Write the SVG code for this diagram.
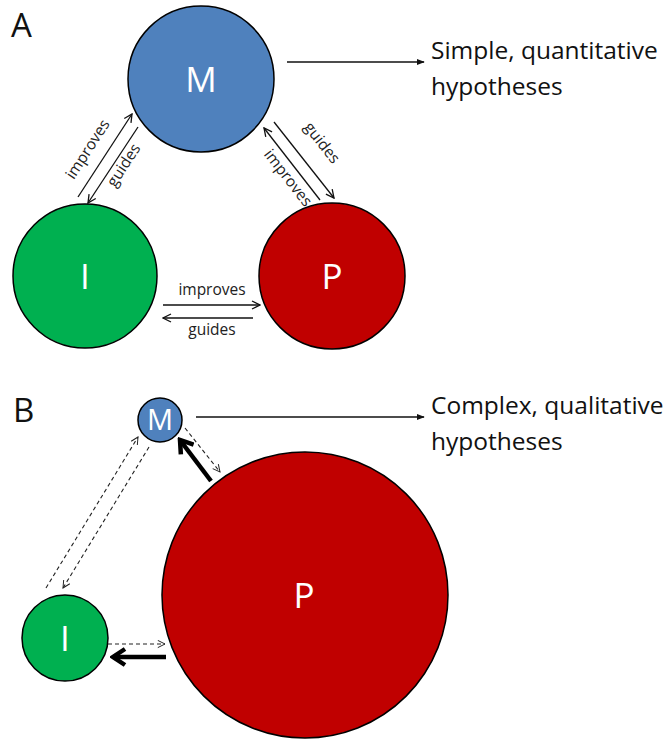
<svg xmlns="http://www.w3.org/2000/svg" width="670" height="740" viewBox="0 0 670 740">
<style>
text{font-family:"Open Sans","Liberation Sans",sans-serif;}
.node{stroke:#000;stroke-width:1.5;}
.m{fill:#4F81BD;}
.i{fill:#00B050;}
.p{fill:#C00000;}
.nl{fill:#fff;text-anchor:middle;font-size:35px;}
.lab{fill:#222;text-anchor:middle;font-size:15.5px;}
.big{fill:#111;font-size:24.5px;}
.panel{fill:#111;font-size:33px;}
.thin{stroke:#111;stroke-width:1.3;fill:none;marker-end:url(#open);}
.dash{stroke:#222;stroke-width:1.1;fill:none;stroke-dasharray:4 3;marker-end:url(#opend);}
.bold{stroke:#000;stroke-width:4.5;fill:none;marker-end:url(#boldh);}
.long{stroke:#111;stroke-width:1.5;fill:none;marker-end:url(#fill);}
</style>
<defs>
<marker id="open" viewBox="0 0 10 10" refX="9" refY="5" markerWidth="10" markerHeight="10" markerUnits="userSpaceOnUse" orient="auto">
<polyline points="1,1 9,5 1,9" fill="none" stroke="#111" stroke-width="1.3"/>
</marker>
<marker id="opend" viewBox="0 0 10 10" refX="9" refY="5" markerWidth="9" markerHeight="9" markerUnits="userSpaceOnUse" orient="auto">
<polyline points="1,1 9,5 1,9" fill="none" stroke="#222" stroke-width="1.1"/>
</marker>
<marker id="boldh" viewBox="0 0 20 20" refX="17" refY="10" markerWidth="20" markerHeight="20" markerUnits="userSpaceOnUse" orient="auto">
<polyline points="5,2 17,10 5,18" fill="none" stroke="#000" stroke-width="4.5" stroke-linejoin="miter"/>
</marker>
<marker id="fill" viewBox="0 0 10 10" refX="9" refY="5" markerWidth="8" markerHeight="8" markerUnits="userSpaceOnUse" orient="auto">
<path d="M0,1 L10,5 L0,9 Z" fill="#111"/>
</marker>
</defs>

<text class="panel" x="11" y="37">A</text>
<text class="panel" x="13" y="422">B</text>

<g id="connectors">
<line class="long" x1="287" y1="62" x2="424" y2="62"/>
<line class="thin" x1="78" y1="197" x2="132" y2="114"/>
<line class="thin" x1="138" y1="127" x2="88" y2="203"/>
<line class="thin" x1="274" y1="122" x2="334" y2="198"/>
<line class="thin" x1="320" y1="200" x2="264" y2="128"/>
<line class="thin" x1="163" y1="305" x2="260" y2="305"/>
<line class="thin" x1="253" y1="318" x2="163" y2="318"/>
<text class="lab" transform="translate(92,152) rotate(-57)">improves</text>
<text class="lab" transform="translate(128,168) rotate(-57)">guides</text>
<text class="lab" transform="translate(318,146) rotate(52)">guides</text>
<text class="lab" transform="translate(284,181) rotate(52)">improves</text>
<text class="lab" x="212" y="295">improves</text>
<text class="lab" x="212" y="335">guides</text>

<line class="long" x1="196" y1="417" x2="424" y2="417"/>
<line class="dash" x1="46" y1="588" x2="138" y2="437"/>
<line class="dash" x1="149" y1="447" x2="63" y2="588"/>
<line class="dash" x1="185" y1="428" x2="220" y2="472"/>
<line class="dash" x1="108" y1="644" x2="165" y2="644"/>
<line class="bold" x1="211" y1="481" x2="180" y2="440"/>
<line class="bold" x1="166" y1="657" x2="113" y2="657"/>
</g>

<g id="textA">
<text class="big" x="431" y="59">Simple, quantitative</text>
<text class="big" x="431" y="95">hypotheses</text>
</g>
<g id="textB">
<text class="big" x="431" y="414">Complex, qualitative</text>
<text class="big" x="431" y="450">hypotheses</text>
</g>

<g id="A-M"><circle class="node m" cx="201" cy="79" r="73"/><text class="nl" x="201" y="92">M</text></g>
<g id="A-I"><circle class="node i" cx="85" cy="276" r="72"/><text class="nl" x="85" y="289">I</text></g>
<g id="A-P"><circle class="node p" cx="332" cy="276" r="73"/><text class="nl" x="332" y="289">P</text></g>

<g id="B-M"><circle class="node m" cx="160" cy="420" r="22"/><text class="nl" x="160" y="430" style="font-size:29px">M</text></g>
<g id="B-I"><circle class="node i" cx="65" cy="638" r="43"/><text class="nl" x="65" y="651">I</text></g>
<g id="B-P"><circle class="node p" cx="305" cy="595" r="143"/><text class="nl" x="304" y="608">P</text></g>
</svg>
